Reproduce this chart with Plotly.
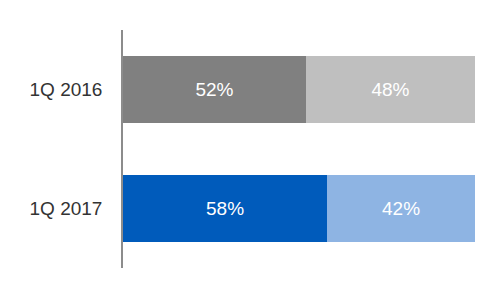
import plotly.graph_objects as go

categories = ["1Q 2016", "1Q 2017"]
first_share = [52, 58]
second_share = [48, 42]
first_colors = ["#808080", "#005bbb"]
second_colors = ["#bfbfbf", "#8eb4e3"]

fig = go.Figure()
for vals, cols in ((first_share, first_colors), (second_share, second_colors)):
    fig.add_trace(go.Bar(
        y=categories, x=vals, orientation="h",
        marker=dict(color=cols, line=dict(width=0)),
        text=[f"{v}%" for v in vals], textposition="inside",
        insidetextanchor="middle",
        textfont=dict(color="white", size=19, family="Liberation Sans, Arial"),
        width=0.56, hoverinfo="skip",
    ))
fig.update_layout(
    barmode="stack",
    width=500, height=300,
    margin=dict(l=123, r=25, t=30, b=32),
    paper_bgcolor="white", plot_bgcolor="white",
    showlegend=False,
    xaxis=dict(range=[0, 100], visible=False, fixedrange=True),
    yaxis=dict(
        autorange=False, range=[1.5, -0.5],
        showline=True, linecolor="#8c8c8c", linewidth=1.5,
        ticks="", showgrid=False, zeroline=False,
        ticklabelstandoff=15,
        tickfont=dict(size=19, color="#333333", family="Liberation Sans, Arial"),
    ),
)
fig.write_html("out.html")
